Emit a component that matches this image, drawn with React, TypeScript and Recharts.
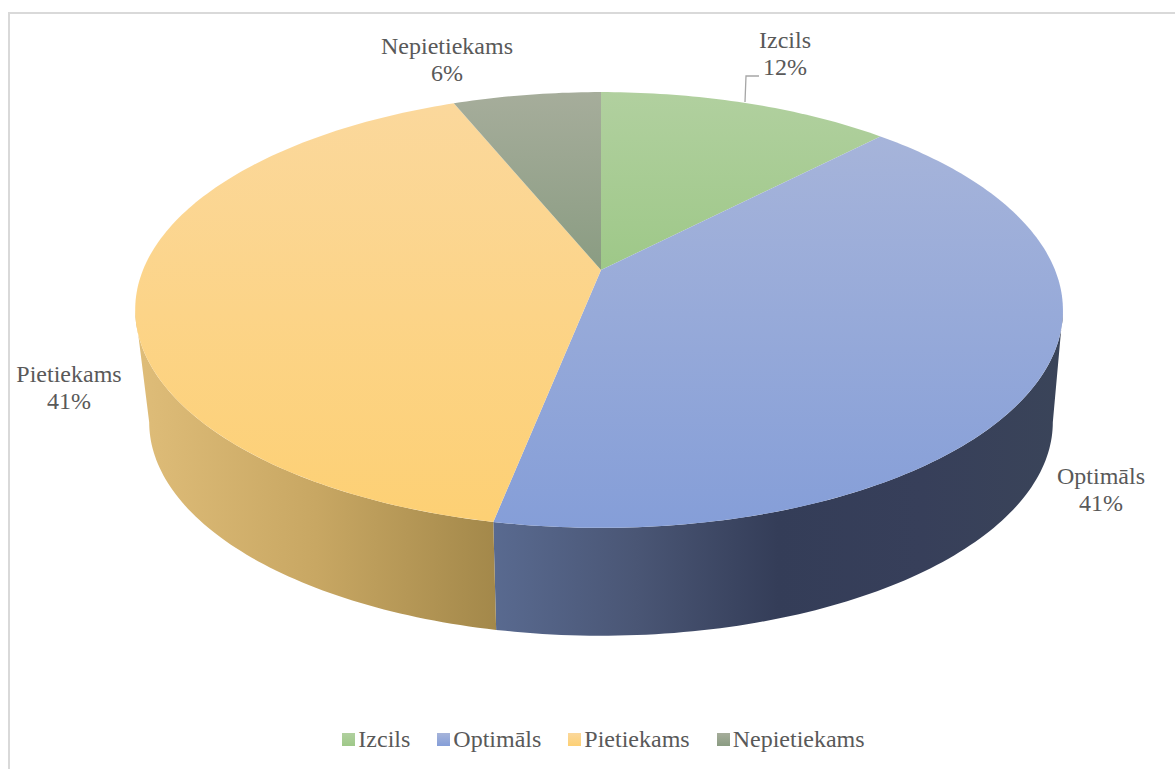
import { PieChart, Pie, Legend } from 'recharts';

const categories = ['Izcils', 'Optimāls', 'Pietiekams', 'Nepietiekams'];
const shares = [12.25, 40.85, 40.75, 6.15];

const TOP_STOPS = [
  ['#b1d09f', '#9ec888'],
  ['#a6b4da', '#859ed8'],
  ['#fbd89c', '#fdd074'],
  ['#a6ad9b', '#8a9c82'],
];
const WALL_STOPS = [
  ['#6f8c5e', '#5f7d50'],
  ['#596a90', '#4a5675', '#343d58', '#373f5a', '#3a4459'],
  ['#dfbd79', '#c8a763', '#a3884a'],
  ['#6a7564', '#5a6754'],
];
// where each label sits, relative to the pie centre
const LABEL_OFFSETS = [
  [184, -222],
  [500, 214],
  [-532, 112],
  [-154, -216],
];

const TEXT_COLOR = '#595959';
const FONT = '"Liberation Serif", serif';

// perspective tilt of the disc, from where the rim hits the picture
const TILT = -0.1835;
const Y_SCALE = 161 / 456;
const RIM_SHIFT = -2;
const WALL_SHRINK_X = 0.974;
const WALL_SHRINK_Y = 0.98;
const WALL_DROP = 113;
const SIDE_RIGHT = -10.6;
const SIDE_LEFT = -169.4;

const data = categories.map((name, i) => ({ name, value: shares[i], fill: `url(#top-${i})` }));

function project(cx: number, cy: number, r: number, deg: number, lower = false) {
  const rad = (deg * Math.PI) / 180;
  const u = Math.cos(rad);
  const v = -Math.sin(rad);
  const d = 1 + TILT * v;
  const x = (r * u) / d;
  const y = (r * Y_SCALE * v - cy * TILT * v) / d;
  if (!lower) return [cx + x + RIM_SHIFT * u * u, cy + y];
  return [cx + x * WALL_SHRINK_X, cy + y * WALL_SHRINK_Y + WALL_DROP];
}

function sweep(from: number, to: number) {
  const n = Math.max(2, Math.ceil(Math.abs(to - from)));
  return Array.from({ length: n + 1 }, (_, k) => from + ((to - from) * k) / n);
}

function toPath(points: number[][]) {
  return points.map((p, k) => `${k ? 'L' : 'M'}${p[0].toFixed(2)} ${p[1].toFixed(2)}`).join(' ') + ' Z';
}

function Slice(props: any) {
  const { cx, cy, outerRadius, startAngle, endAngle, index, fill } = props;
  const top = [[cx, cy], ...sweep(startAngle, endAngle).map((a) => project(cx, cy, outerRadius, a))];
  const hi = Math.min(startAngle, SIDE_RIGHT);
  const lo = Math.max(endAngle, SIDE_LEFT);
  let wall = null;
  if (hi > lo) {
    const front = sweep(hi, lo).map((a) => project(cx, cy, outerRadius, a));
    const back = sweep(lo, hi).map((a) => project(cx, cy, outerRadius, a, true));
    wall = <path d={toPath([...front, ...back])} fill={`url(#wall-${index})`} />;
  }
  return (
    <g>
      {wall}
      <path d={toPath(top)} fill={fill} />
    </g>
  );
}

function SliceLabel(props: any) {
  const { cx, cy, index, name, percent } = props;
  const x = cx + LABEL_OFFSETS[index][0];
  const y = cy + LABEL_OFFSETS[index][1];
  return (
    <g>
      {index === 0 && (
        <polyline
          points={`${x - 40},${y + 54} ${x - 39},${y + 28} ${x - 26},${y + 28}`}
          fill="none"
          stroke="#a6a6a6"
          strokeWidth={1.3}
        />
      )}
      <text x={x} y={y} textAnchor="middle" fill={TEXT_COLOR} fontFamily={FONT} fontSize={24}>
        <tspan x={x}>{name}</tspan>
        <tspan x={x} dy={27}>{`${Math.round(percent * 100)}%`}</tspan>
      </text>
    </g>
  );
}

function LegendRow({ payload }: any) {
  return (
    <div style={{ display: 'flex', justifyContent: 'center', gap: 27, fontFamily: FONT, fontSize: 24, color: TEXT_COLOR }}>
      {(payload || []).map((entry: any, i: number) => (
        <div key={entry.value} style={{ display: 'flex', alignItems: 'center', gap: 3 }}>
          <svg width={13} height={13}>
            <rect width={13} height={13} fill={`url(#top-${i})`} />
          </svg>
          <span>{entry.value}</span>
        </div>
      ))}
    </div>
  );
}

export default function App() {
  return (
    <div style={{ position: 'absolute', left: 0, top: 0, width: 1175, height: 769, overflow: 'hidden', background: '#fff' }}>
      <div
        style={{
          position: 'absolute',
          left: 8,
          top: 12,
          width: 1175,
          height: 800,
          border: '2px solid #d9d9d9',
          boxSizing: 'border-box',
        }}
      />
      <PieChart width={1175} height={769} margin={{ top: 0, right: 0, bottom: 0, left: 0 }} style={{ position: 'absolute', left: 0, top: 0 }}>
        <defs>
          {TOP_STOPS.map((stops, i) => (
            <linearGradient key={i} id={`top-${i}`} x1="0" y1="0" x2="0" y2="1">
              {stops.map((c, k) => (
                <stop key={k} offset={k / (stops.length - 1)} stopColor={c} />
              ))}
            </linearGradient>
          ))}
          {WALL_STOPS.map((stops, i) => (
            <linearGradient key={i} id={`wall-${i}`} x1="0" y1="0" x2="1" y2="0">
              {stops.map((c, k) => (
                <stop key={k} offset={k / (stops.length - 1)} stopColor={c} />
              ))}
            </linearGradient>
          ))}
        </defs>
        <Pie
          data={data}
          dataKey="value"
          nameKey="name"
          cx={601}
          cy={270}
          innerRadius={0}
          outerRadius={456}
          startAngle={90}
          endAngle={-270}
          stroke="none"
          isAnimationActive={false}
          shape={Slice}
          inactiveShape={Slice}
          activeShape={Slice}
          label={SliceLabel}
          labelLine={false}
        />
        <Legend content={LegendRow} itemSorter={null} wrapperStyle={{ top: 726, left: 16, width: 1175 }} />
      </PieChart>
    </div>
  );
}
